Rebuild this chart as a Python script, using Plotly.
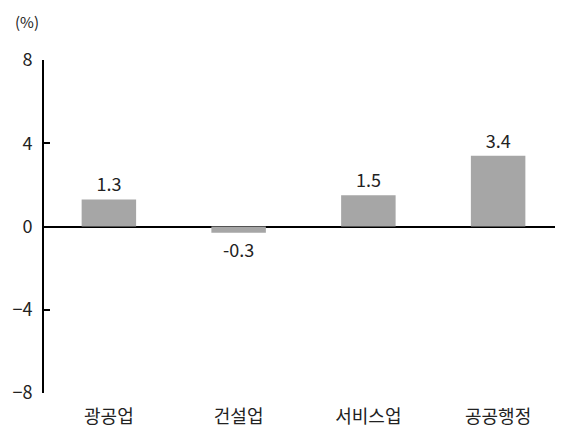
import plotly.graph_objects as go

categories = ["광공업", "건설업", "서비스업", "공공행정"]
values = [1.3, -0.3, 1.5, 3.4]
labels = ["1.3", "-0.3", "1.5", "3.4"]
y_ticks = [-8, -4, 0, 4, 8]

FONT = "Noto Sans CJK KR"

fig = go.Figure()
fig.add_trace(go.Bar(
    x=categories, y=values,
    marker=dict(color="#a6a6a6", line=dict(width=0)),
    width=0.42,
    text=labels, textposition="outside",
    textfont=dict(family=FONT, size=18, color="#222222"),
    cliponaxis=False,
))

fig.update_layout(
    width=563, height=433,
    margin=dict(l=36, r=8, t=52, b=48),
    paper_bgcolor="white", plot_bgcolor="white",
    showlegend=False,
    font=dict(family=FONT, size=18, color="#222222"),
    xaxis=dict(showline=False, showgrid=False, zeroline=False, ticks="",
               automargin=False, ticklabelstandoff=11,
               tickfont=dict(family=FONT, size=18, color="#222222")),
    yaxis=dict(range=[-8, 8], tickvals=y_ticks, ticktext=[str(v).replace("-", "−") for v in y_ticks],
               showline=True, linecolor="black", linewidth=2,
               ticks="inside", ticklen=6, tickcolor="black", tickwidth=2,
               automargin=False, ticklabelstandoff=6,
               showgrid=False, zeroline=True, zerolinecolor="black", zerolinewidth=2,
               tickfont=dict(family=FONT, size=18, color="#222222")),
    annotations=[dict(text="(%)", xref="paper", yref="paper", x=-0.033, y=1 + 39 / 333,
                      xanchor="center", yanchor="middle", showarrow=False,
                      font=dict(family=FONT, size=15, color="#222222"))],
)

fig.write_html("out.html")
